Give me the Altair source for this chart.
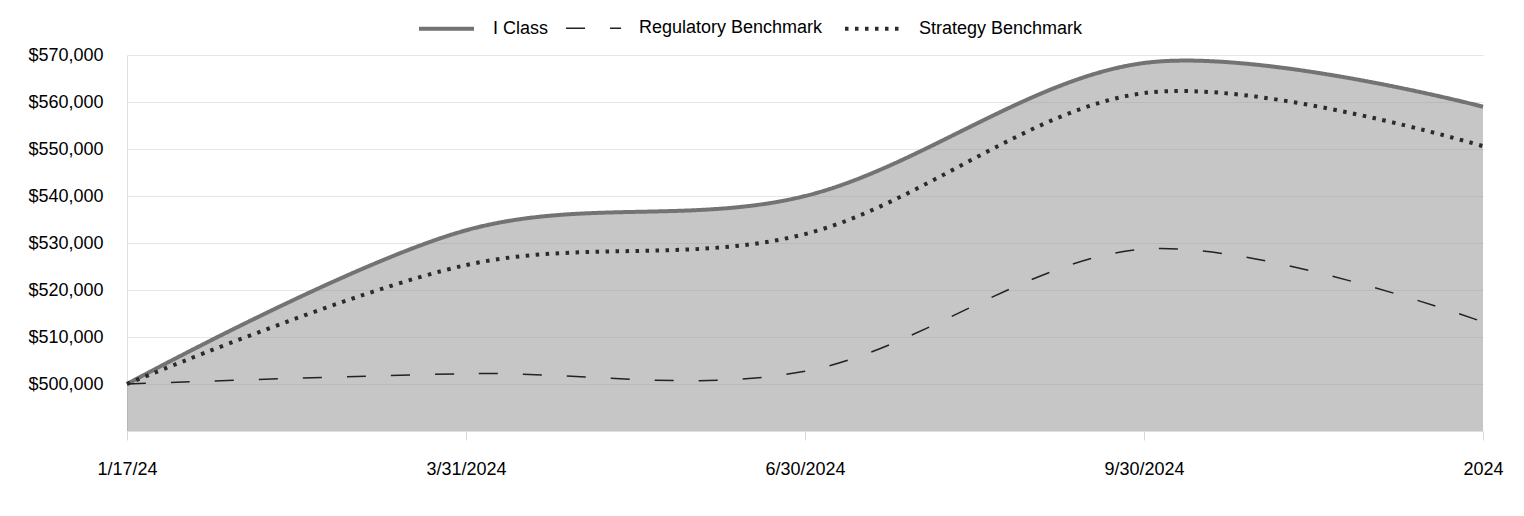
import altair as alt
import pandas as pd

dates = ["1/17/24", "3/31/2024", "6/30/2024", "9/30/2024", "2024"]
i_class = [500000, 532700, 540000, 568300, 559000]
regulatory = [500000, 502200, 502700, 528700, 513200]
strategy = [500000, 525300, 531900, 561900, 550600]
series_names = ["I Class", "Regulatory Benchmark", "Strategy Benchmark"]

rows = []
for name, vals in zip(series_names, [i_class, regulatory, strategy]):
    for i, (d, v) in enumerate(zip(dates, vals)):
        rows.append({"date": d, "value": v, "series": name, "order": i})
df = pd.DataFrame(rows)
area_df = pd.DataFrame({"date": dates, "value": i_class, "base": [490000] * len(dates)})

FONT = "Liberation Sans"
FS = 18

x_enc = alt.X("date:O", sort=dates, scale=alt.Scale(type="point", padding=0),
              axis=alt.Axis(title=None, labelAngle=0, labelFontSize=FS, labelFont=FONT,
                            labelColor="#000000", tickColor="#d9d9d9", tickSize=9,
                            labelPadding=20, domainColor="#e0e0e0", grid=False))
y_scale = alt.Scale(domain=[490000, 570000], nice=False, zero=False)

area = alt.Chart(area_df).mark_area(interpolate="cardinal", color="#919191", opacity=0.52).encode(
    x=x_enc,
    y=alt.Y("value:Q", scale=y_scale,
            axis=alt.Axis(title=None, values=list(range(500000, 570001, 10000)), format="$,.0f",
                          labelFontSize=FS, labelFont=FONT, labelColor="#000000", ticks=False,
                          labelPadding=24, domainColor="#e0e0e0", gridColor="#e6e6e6")),
    y2="base:Q",
)

lines = alt.Chart(df).mark_line(interpolate="cardinal").encode(
    x=alt.X("date:O", sort=dates),
    y=alt.Y("value:Q", scale=y_scale),
    order="order:Q",
    color=alt.Color("series:N", sort=series_names,
                    scale=alt.Scale(domain=series_names, range=["#737373", "#222222", "#2b2b2b"]),
                    legend=alt.Legend(title=None)),
    strokeDash=alt.StrokeDash("series:N", sort=series_names,
                              scale=alt.Scale(domain=series_names, range=[[1, 0], [19, 25], [3.5, 6.5]]),
                              legend=alt.Legend(title=None)),
    strokeWidth=alt.StrokeWidth("series:N", sort=series_names,
                                scale=alt.Scale(type="ordinal", domain=series_names, range=[4, 1.5, 4]),
                                legend=alt.Legend(title=None)),
)

chart = alt.layer(area, lines).properties(
    width=1356, height=376,
    autosize=alt.AutoSizeParams(type="none"),
    padding={"left": 119, "top": 47, "right": 30, "bottom": 60},
).configure_view(stroke=None).configure_legend(
    orient="none", legendX=290, legendY=-56, direction="horizontal",
    symbolType="stroke", symbolSize=3025, labelFontSize=FS, labelFont=FONT,
    labelColor="#000000", labelOffset=17, columnPadding=14, labelLimit=0,
).configure_axisY(gridColor="#e6e6e6")

chart.save("out.html", embed_options={"renderer": "svg", "actions": False})
